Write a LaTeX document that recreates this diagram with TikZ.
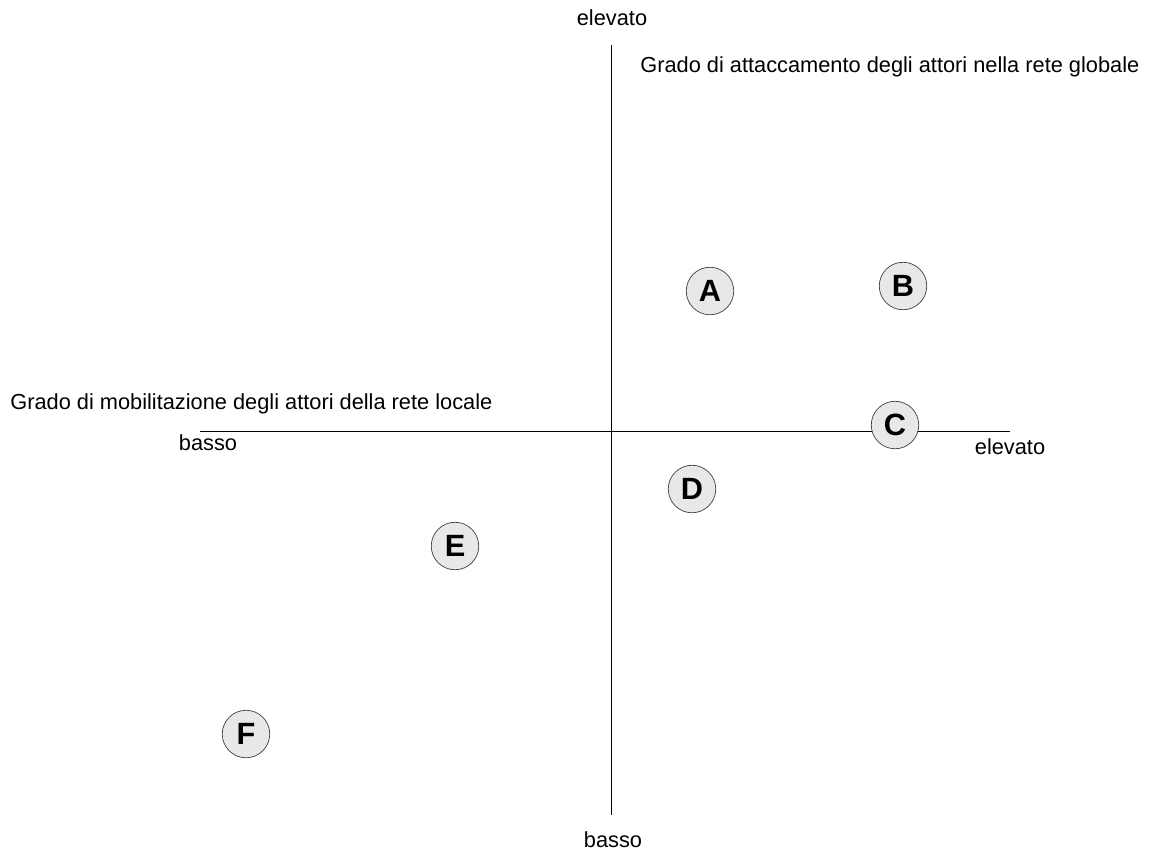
\documentclass[tikz,border=0pt]{standalone}
\usepackage{fontspec}
\setmainfont{Liberation Sans}
\usepackage{tikz}
\usetikzlibrary{positioning}
\definecolor{attfill}{HTML}{E8E8E8}
\definecolor{attline}{HTML}{404040}

\begin{document}
\begin{tikzpicture}[
            x=0.02cm, y=-0.02cm,
                ax/.style  = {line width=0.5pt},% both axes
                lbl/.style = {font=\fontsize{12.4}{14}\selectfont, inner sep=0pt},
                att/.style = {circle, draw=attline, fill=attfill,% actors
                              minimum size=0.95cm, inner sep=0pt,
                              font=\fontsize{17.5}{19}\selectfont\bfseries},
                ]
            \useasboundingbox (0,0) rectangle (1151,850);
            % axes
            \coordinate (top)   at (611,45);
            \coordinate (bot)   at (611,815);
            \coordinate (left)  at (200,431);
            \coordinate (right) at (1010,431);
            \draw[ax] (top) -- (bot);
            \draw[ax] (left) -- (right);
            % axis labels
            \node[lbl] (ytop) at (612,18)  {elevato};
            \node[lbl] (ybot) at (613,840) {basso};
            \node[lbl] (xlft) at (208,443) {basso};
            \node[lbl] (xrgt) at (1010,447) {elevato};
            \node[lbl, anchor=west] (ytit) at (640,67)
                {Grado di attaccamento degli attori nella rete globale};
            \node[lbl, anchor=west] (xtit) at (10,404)
                {Grado di mobilitazione degli attori della rete locale};
            % actors
            \foreach \n/\x/\y in {A/710/291, B/903/286, C/895/425,
                                  D/692/489, E/455/546, F/246/734}
                \node[att] (\n) at (\x,\y) {\n};
        \end{tikzpicture}
\end{document}
